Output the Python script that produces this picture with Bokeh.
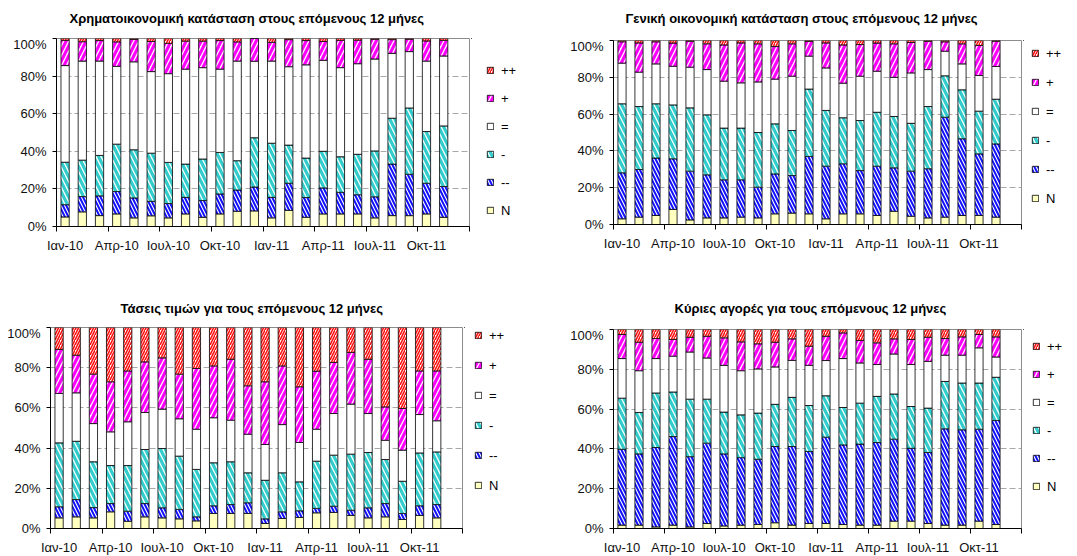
import numpy as np
import pandas as pd
from bokeh.plotting import figure
from bokeh.layouts import column, row
from bokeh.models import (ColumnDataSource, FixedTicker, PrintfTickFormatter,
                          Legend, LegendItem, Range1d)
from bokeh.embed import file_html
from bokeh.resources import INLINE
from bokeh.core.properties import value

# ---------------- data ----------------
months = ["Ιαν-10", "Φεβ-10", "Μαρ-10", "Απρ-10", "Μαΐ-10", "Ιουν-10",
          "Ιουλ-10", "Αυγ-10", "Σεπ-10", "Οκτ-10", "Νοε-10", "Δεκ-10",
          "Ιαν-11", "Φεβ-11", "Μαρ-11", "Απρ-11", "Μαΐ-11", "Ιουν-11",
          "Ιουλ-11", "Αυγ-11", "Σεπ-11", "Οκτ-11", "Νοε-11", "Δεκ-11"]
series = ["N", "--", "-", "=", "+", "++"]

title_fin = "Χρηματοικονομική κατάσταση στους επόμενους 12 μήνες"
title_gen = "Γενική οικονομική κατάσταση στους επόμενους 12 μήνες"
title_pr = "Τάσεις τιμών για τους επόμενους 12 μήνες"
title_mk = "Κύριες αγορές για τους επόμενους 12 μήνες"

fin_N  = [5.1, 7.8, 5.8, 6.7, 4.6, 5.7, 4.6, 6.7, 4.9, 6.7, 8.1, 8.3, 4.6, 8.6, 4.9, 6.7, 6.7, 6.7, 4.6, 5.8, 5.8, 6.7, 4.9]
fin_mm = [6.5, 8.1, 10.5, 11.9, 10.6, 7.7, 7.6, 8.8, 8.9, 10.6, 11.3, 12.7, 10.9, 14.4, 10.5, 13.8, 11.5, 10.2, 11.2, 27.4, 22.1, 16.3, 16.4]
fin_m  = [22.6, 19.4, 21.5, 25.2, 25.6, 25.6, 21.9, 17.7, 22.1, 22.1, 15.6, 26.2, 28.8, 20.3, 21.0, 19.5, 18.9, 21.5, 24.4, 24.4, 35.4, 27.5, 32.2]
fin_eq = [51.4, 52.7, 50.2, 41.4, 46.8, 43.4, 47.2, 50.5, 48.6, 44.3, 53.0, 40.7, 43.7, 41.7, 49.6, 48.4, 47.4, 48.2, 48.9, 34.5, 30.1, 37.5, 37.2]
fin_p  = [13.4, 10.3, 10.9, 13.0, 11.9, 16.0, 16.1, 14.9, 14.1, 15.2, 10.2, 12.1, 10.0, 14.4, 12.9, 10.0, 14.5, 12.5, 10.5, 7.3, 6.6, 10.7, 8.3]
fin_pp = [1.0, 1.7, 1.1, 1.8, 0.5, 1.6, 2.6, 1.4, 1.4, 1.1, 1.8, 0.0, 2.0, 0.6, 1.1, 1.6, 1.0, 0.9, 0.4, 0.6, 0.4, 1.3, 1.0]

gen_N  = [3.1, 4.0, 4.9, 8.2, 2.5, 3.6, 3.6, 4.0, 3.6, 5.8, 6.2, 5.8, 3.1, 5.8, 5.8, 4.9, 7.2, 4.5, 3.6, 4.0, 4.9, 4.9, 4.0]
gen_mm = [25.0, 25.9, 31.2, 27.5, 26.5, 23.4, 20.7, 20.3, 16.7, 21.7, 20.4, 31.2, 28.6, 27.2, 23.5, 26.8, 23.6, 24.5, 26.7, 54.3, 41.7, 33.5, 39.8]
gen_m  = [37.5, 34.2, 29.5, 29.3, 34.4, 32.6, 28.1, 28.1, 29.7, 27.2, 24.5, 36.6, 30.3, 25.0, 27.2, 29.3, 27.9, 26.0, 33.8, 22.5, 26.6, 23.2, 24.3]
gen_eq = [22.1, 18.7, 21.7, 21.0, 22.1, 24.6, 25.5, 24.6, 27.5, 24.3, 29.5, 17.9, 23.1, 18.8, 24.1, 22.3, 21.3, 27.4, 20.1, 13.4, 14.1, 19.4, 17.8]
gen_p  = [11.6, 15.9, 12.0, 12.6, 14.1, 14.0, 19.7, 21.7, 20.7, 17.7, 17.6, 8.0, 13.6, 20.8, 17.2, 15.3, 18.2, 16.5, 15.3, 5.1, 10.9, 16.3, 13.7]
gen_pp = [0.7, 1.3, 0.7, 1.4, 0.4, 1.8, 2.4, 1.3, 1.8, 3.3, 1.8, 0.5, 1.3, 2.4, 2.2, 1.4, 1.8, 1.1, 0.5, 0.7, 1.8, 2.7, 0.4]

pr_N  = [5.3, 5.8, 5.3, 8.3, 3.6, 5.8, 5.3, 4.8, 3.8, 7.5, 7.5, 7.5, 2.5, 5.0, 5.5, 7.8, 8.0, 6.5, 5.3, 5.8, 4.5, 6.5, 5.3]
pr_mm = [5.5, 8.6, 5.1, 4.1, 5.0, 6.6, 5.0, 4.7, 2.0, 3.8, 4.4, 5.3, 2.3, 3.3, 3.3, 2.2, 3.1, 2.6, 5.0, 6.6, 3.0, 4.8, 6.6]
pr_m  = [31.8, 29.0, 22.8, 18.9, 22.7, 26.9, 29.5, 26.5, 23.6, 21.4, 21.3, 14.9, 19.2, 19.4, 14.4, 23.5, 25.4, 27.9, 27.5, 21.9, 16.0, 26.3, 26.2]
pr_eq = [24.6, 24.1, 19.0, 16.8, 21.8, 18.4, 19.6, 18.6, 20.0, 22.4, 20.7, 19.2, 17.8, 24.0, 19.6, 15.9, 20.7, 24.9, 19.4, 9.6, 15.5, 19.1, 15.5]
pr_p  = [21.9, 18.7, 24.6, 24.9, 25.3, 25.2, 25.5, 22.2, 30.2, 25.8, 30.3, 24.1, 31.2, 29.2, 27.7, 28.9, 25.4, 25.7, 27.0, 16.6, 20.7, 21.7, 24.8]
pr_pp = [10.9, 13.8, 23.2, 27.0, 21.6, 17.1, 15.1, 23.2, 20.4, 19.1, 15.8, 29.0, 27.0, 19.1, 29.5, 21.7, 17.4, 12.4, 15.8, 39.5, 40.3, 21.6, 21.6]

mk_N  = [1.7, 1.7, 0.8, 1.7, 0.8, 2.5, 1.3, 1.7, 2.0, 2.9, 1.7, 2.5, 2.5, 2.0, 1.7, 1.7, 3.7, 3.7, 2.5, 1.7, 1.7, 3.7, 2.0]
mk_mm = [38.1, 35.8, 39.9, 44.5, 35.3, 40.4, 36.2, 33.9, 32.8, 38.3, 39.5, 36.2, 43.4, 40.0, 40.7, 41.5, 41.2, 36.6, 35.7, 48.4, 47.9, 46.2, 52.3]
mk_m  = [25.7, 20.8, 27.4, 22.4, 28.9, 22.1, 21.0, 21.5, 23.2, 21.2, 24.7, 23.1, 20.8, 18.8, 20.6, 23.2, 22.7, 21.0, 22.3, 23.8, 23.5, 23.2, 21.7]
mk_eq = [19.9, 21.0, 17.3, 18.0, 23.7, 20.7, 23.5, 22.2, 22.2, 18.8, 18.6, 20.2, 17.7, 24.6, 20.2, 16.0, 20.1, 21.1, 23.5, 13.2, 14.0, 17.7, 10.2]
mk_p  = [12.1, 14.3, 10.1, 8.4, 7.4, 10.9, 13.8, 14.5, 12.6, 12.4, 10.8, 9.6, 12.2, 12.9, 11.3, 10.9, 7.6, 12.6, 12.1, 8.4, 9.2, 6.7, 10.1]
mk_pp = [2.5, 6.4, 4.5, 5.0, 3.9, 3.4, 4.2, 6.2, 7.2, 6.4, 4.7, 8.4, 3.4, 1.7, 5.5, 6.7, 4.7, 5.0, 3.9, 4.5, 3.7, 2.5, 3.7]

# ---------------- styles ----------------
FONT = "Liberation Sans"
TICK_SIZE = "13px"
fill_colors = ["#FFFFC0", "#FFFFFF", "#FFFFFF", "#FFFFFF", "#FFFFFF", "#FFFFFF"]
hatch_colors = ["#000000", "#1010FF", "#33CCCC", "#000000", "#FF00FF", "#FF1010"]
hatch_patterns = [" ", "left_diagonal_line", "left_diagonal_line", " ",
                  "right_diagonal_line", "right_diagonal_line"]
hatch_scales = [8, 7, 10, 8, 10, 5]
hatch_weights = [1, 2.0, 3.2, 1, 3.2, 1.6]

# panel geometry in page pixels: panel origin (X0,Y0), panel size (W,H),
# plot frame L,T,R,B, x-label standoff, title left / centre-y,
# legend glyph x, first legend item centre y, legend item pitch
geoms = [
    dict(X0=0, Y0=0, W=540, H=280, L=56, T=38, R=469, B=226, so=6,
         tl=69, ty=18.0, lx=486, ly=70.7, ld=27.9),
    dict(X0=540, Y0=0, W=535, H=280, L=613, T=40, R=1021, B=224, so=6,
         tl=625, ty=18.0, lx=1031, ly=54.3, ld=28.8),
    dict(X0=0, Y0=280, W=540, H=274, L=50, T=327, R=462, B=528, so=6,
         tl=120, ty=307.5, lx=474, ly=336.7, ld=30.3),
    dict(X0=540, Y0=280, W=535, H=274, L=613, T=329, R=1021, B=528, so=6,
         tl=674, ty=307.5, lx=1032, ly=348.3, ld=28.2),
]


def bare_figure(w, h, x0, x1, ytop, ybot):
    """A figure without axes, in page-pixel data units."""
    f = figure(width=w, height=h, min_border=0,
               x_range=Range1d(x0, x1), y_range=Range1d(ybot, ytop),
               x_axis_location=None, y_axis_location=None,
               output_backend="svg", toolbar_location=None, title=None,
               background_fill_color="white", border_fill_color="white")
    f.outline_line_color = None
    f.grid.visible = False
    return f


def make_panel(title, cols, g):
    # --- title strip ---
    tH = g["T"] - g["Y0"] - 2
    tfig = bare_figure(g["W"], tH, g["X0"], g["X0"] + g["W"], g["Y0"], g["Y0"] + tH)
    tfig.text(x=[g["tl"]], y=[g["ty"]], text=[title], text_align="left",
              text_baseline="middle", text_font=value(FONT),
              text_font_style="bold", text_font_size="13px", text_color="#000000")

    # --- main chart ---
    df = pd.DataFrame(dict(zip(series, cols)))
    df = df.div(df.sum(axis=1), axis=0) * 100.0
    df["x"] = np.arange(len(df)) + 0.5
    src = ColumnDataSource(df)

    fw = g["R"] - g["L"]
    fh = g["B"] - g["T"]
    mbl = g["L"] - g["X0"]
    mbt = 2
    mbr = 2
    mbb = g["H"] - tH - mbt - fh
    main_w = mbl + fw + mbr

    p = figure(frame_width=fw, frame_height=fh,
               min_border_left=mbl, min_border_right=mbr,
               min_border_top=mbt, min_border_bottom=mbb,
               x_range=Range1d(0, len(months)), y_range=Range1d(0, 100),
               output_backend="svg", toolbar_location=None, title=None,
               background_fill_color="white", border_fill_color="white")

    p.vbar_stack(series, x="x", width=0.48, source=src,
                 fill_color=fill_colors, hatch_color=hatch_colors,
                 hatch_pattern=hatch_patterns, hatch_scale=hatch_scales,
                 hatch_weight=hatch_weights,
                 line_color="#000000", line_width=0.8)

    xa = p.xaxis[0]
    label_ticks = [i + 0.5 for i in range(0, len(months), 3)]
    xa.ticker = FixedTicker(ticks=label_ticks,
                            minor_ticks=list(range(0, len(months) + 1, 3)))
    xa.major_label_overrides = {i + 0.5: months[i] for i in range(0, len(months), 3)}
    xa.major_tick_out = 0
    xa.major_tick_in = 0
    xa.major_tick_line_color = None
    xa.minor_tick_out = 5
    xa.minor_tick_in = 0
    xa.minor_tick_line_color = "#000000"
    xa.axis_line_color = "#000000"
    xa.major_label_standoff = g["so"]
    xa.major_label_text_font = FONT
    xa.major_label_text_font_size = TICK_SIZE
    xa.major_label_text_color = "#111111"

    ya = p.yaxis[0]
    ya.ticker = FixedTicker(ticks=[0, 20, 40, 60, 80, 100])
    ya.formatter = PrintfTickFormatter(format="%d%%")
    ya.major_tick_out = 4
    ya.major_tick_in = 0
    ya.minor_tick_line_color = None
    ya.axis_line_color = "#000000"
    ya.major_tick_line_color = "#000000"
    ya.major_label_standoff = 6
    ya.major_label_text_font = FONT
    ya.major_label_text_font_size = TICK_SIZE
    ya.major_label_text_color = "#111111"

    p.xgrid.visible = False
    p.ygrid.ticker = FixedTicker(ticks=[20, 40, 60, 80])
    p.ygrid.grid_line_color = "#A8A8A8"
    p.ygrid.grid_line_dash = "6 3"
    p.ygrid.grid_line_width = 1
    p.outline_line_color = "#8C8C8C"
    p.outline_line_width = 1

    # --- legend strip (right of the chart; its frame is aligned with the chart frame) ---
    lx0 = g["X0"] + main_w
    lw = g["W"] - main_w
    lh = g["H"] - tH
    lfig = bare_figure(lw, lh, lx0, lx0 + lw, g["T"], g["B"])
    rends = []
    for i in range(len(series)):
        # one sample row far outside the view, only so the legend swatch has its style
        rends.append(lfig.vbar(x=[-1000.0], top=[0.0], bottom=0, width=1,
                               fill_color=fill_colors[i], hatch_color=hatch_colors[i],
                               hatch_pattern=hatch_patterns[i],
                               hatch_scale=hatch_scales[i], hatch_weight=hatch_weights[i],
                               line_color="#000000", line_width=0.8))
    item_h = 16
    n = len(series)
    last_center = g["ly"] + g["ld"] * (n - 1)
    vx = g["lx"] - lx0
    vy = g["B"] - (last_center + item_h / 2)
    items = [LegendItem(label=series[i], renderers=[rends[i]]) for i in reversed(range(n))]
    leg = Legend(items=items, location=(vx, vy), padding=0, margin=0,
                 spacing=int(round(g["ld"] - item_h)),
                 glyph_width=8, glyph_height=8, label_height=item_h,
                 label_width=10, label_standoff=7, label_text_font=FONT,
                 label_text_font_size=TICK_SIZE, label_text_color="#000000",
                 border_line_alpha=0, background_fill_alpha=0)
    lfig.add_layout(leg, "center")

    return column(tfig, row(p, lfig, spacing=0), spacing=0)


p1 = make_panel(title_fin, [fin_N, fin_mm, fin_m, fin_eq, fin_p, fin_pp], geoms[0])
p2 = make_panel(title_gen, [gen_N, gen_mm, gen_m, gen_eq, gen_p, gen_pp], geoms[1])
p3 = make_panel(title_pr, [pr_N, pr_mm, pr_m, pr_eq, pr_p, pr_pp], geoms[2])
p4 = make_panel(title_mk, [mk_N, mk_mm, mk_m, mk_eq, mk_p, mk_pp], geoms[3])

layout = column(row(p1, p2, spacing=0), row(p3, p4, spacing=0), spacing=0)

open("out.html", "w").write(file_html(layout, INLINE))
